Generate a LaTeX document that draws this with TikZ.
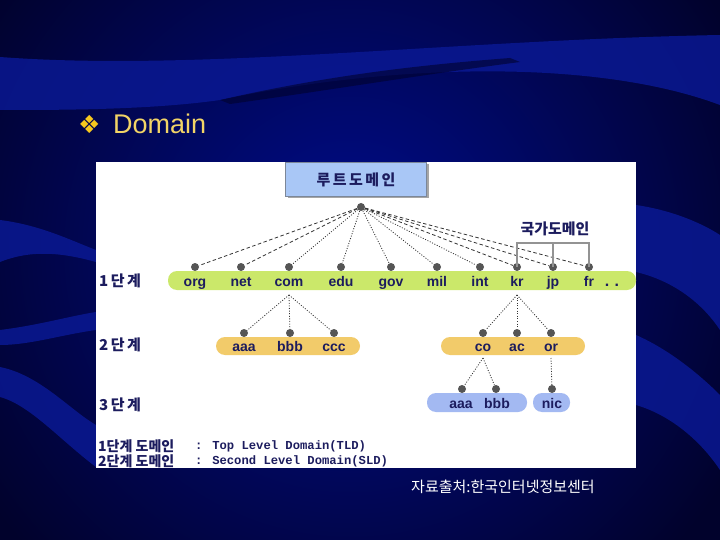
\documentclass[tikz,border=0pt]{standalone}
\usepackage{fontspec}
\setmainfont{Liberation Sans}
\newfontfamily\krfont{Noto Sans CJK KR}
\newfontfamily\codefont{Liberation Mono}
\newfontfamily\symfont{DejaVu Sans}
\usetikzlibrary{calc}
\definecolor{bgdark}{HTML}{01022C}
\definecolor{bgglow}{HTML}{000C8C}
\definecolor{bgband}{HTML}{0A1892}
\definecolor{navyx}{HTML}{1C1C5E}
\definecolor{dotgray}{HTML}{555555}
\definecolor{linkgray}{HTML}{333333}
\definecolor{greenbar}{HTML}{CBE86A}
\definecolor{orangebar}{HTML}{F2CB6A}
\definecolor{bluebar}{HTML}{A3B9F2}
\definecolor{rootfill}{HTML}{A9C7F6}
\definecolor{rootline}{HTML}{7C8798}
\definecolor{titley}{HTML}{F2D466}
\definecolor{bullety}{HTML}{F7C81E}
\tikzset{
  dot/.style={circle,fill=dotgray,inner sep=0pt,minimum size=8pt},
  lab/.style={font=\bfseries\fontsize{14}{14}\selectfont,text=navyx,inner sep=1pt,anchor=base},
  steplab/.style={font=\krfont\bfseries\fontsize{15}{15}\selectfont,text=navyx,anchor=west,inner sep=0pt},
  keylab/.style={font=\krfont\bfseries\fontsize{14}{14}\selectfont,text=navyx,anchor=west,inner sep=0pt},
  codelab/.style={font=\codefont\bfseries\fontsize{12.2}{12.2}\selectfont,text=navyx,anchor=west,inner sep=0pt},
  link/.style={linkgray,line width=0.8pt},
  dashlink/.style={link,dash pattern=on 3.5pt off 2.5pt},
  dotlink/.style={link,dash pattern=on 1pt off 1.6pt},
  bracket/.style={gray!85,line width=1.4pt},
  bar/.style={rounded corners=9pt}
}
\begin{document}
\begin{tikzpicture}[x=1pt,y=-1pt]
\useasboundingbox (0,0) rectangle (720,540);
% background
\begin{scope}
\clip (0,0) rectangle (720,540);
\fill[bgdark] (0,0) rectangle (720,540);
\shade[inner color=bgglow,outer color=bgdark] (350,250) circle (440);
\fill[bgband,opacity=0.85] (0,57) .. controls (200,72) and (450,40) .. (720,35) -- (720,105)
  .. controls (600,60) and (400,62) .. (220,100) .. controls (150,110) and (60,110) .. (0,110) -- cycle;
\fill[bgdark,opacity=0.6] (220,100) .. controls (330,75) and (420,65) .. (510,58) -- (520,62) .. controls (420,75) and (330,90) .. (230,104) -- cycle;
\fill[bgband,opacity=0.85] (0,220) .. controls (40,225) and (70,240) .. (96,250) -- (96,262) .. controls (60,252) and (30,250) .. (0,262) -- cycle;
\fill[bgband,opacity=0.85] (0,330) .. controls (40,325) and (70,316) .. (96,312) -- (96,330) .. controls (60,335) and (30,345) .. (0,345) -- cycle;
\fill[bgband,opacity=0.85] (0,367) .. controls (40,375) and (70,410) .. (96,425) -- (96,467) .. controls (60,440) and (30,405) .. (0,397) -- cycle;
\fill[bgband,opacity=0.85] (636,205) .. controls (670,210) and (700,222) .. (720,235) -- (720,330) .. controls (700,300) and (670,280) .. (636,272) -- cycle;
\fill[bgband,opacity=0.85] (636,335) .. controls (670,350) and (700,375) .. (720,395) -- (720,470) .. controls (700,440) and (670,415) .. (636,405) -- cycle;
\end{scope}
% title
\node[font=\symfont\fontsize{25}{25}\selectfont,text=bullety,anchor=west,inner sep=0pt] (bul) at (78,124) {❖};
\node[font=\fontsize{27}{27}\selectfont,text=titley,anchor=west,inner sep=0pt] (title) at (113,124) {Domain};
% panel
\fill[white] (96,162) rectangle (636,468);
% root
\fill[gray!70] (288,164) rectangle (429,198);
\node[draw=rootline,fill=rootfill,minimum width=141pt,minimum height=34pt,
  font=\krfont\bfseries\fontsize{15}{15}\selectfont,text=navyx] (root) at (356,179.5) {루\,트\,도\,메\,인};
\node[dot] (rdot) at (361,207) {};
% level 1
\fill[greenbar,bar] (168,271) rectangle (636,290);
\node[steplab] (s1) at (99,281) {1\,단\,계};
\coordinate (brk) at (553,243);
\foreach \n/\x/\s in {org/195/dashlink,net/241/dashlink,com/289/dotlink,edu/341/dotlink,
  gov/391/dotlink,mil/437/dotlink,int/480/dotlink,kr/517/dashlink,jp/553/dashlink,fr/589/dashlink}{
  \node[lab] (\n) at (\x,286) {\n};
  \node[dot] (d\n) at (\x,267) {};
  \draw[\s] (rdot) -- (d\n);
}
\node[lab,font=\bfseries\fontsize{16}{16}\selectfont] (more) at (612,286) {.\,\,.};
\draw[bracket] (dkr.center) -- (dkr.center |- brk) -- (dfr.center |- brk) -- (dfr.center);
\draw[bracket] (djp.center) -- (djp.center |- brk);
\node[font=\krfont\bfseries\fontsize{15}{15}\selectfont,text=navyx] (cc) at (555,229) {국가도메인};
% level 2
\node[steplab] (s2) at (99,345) {2\,단\,계};
\fill[orangebar,bar] (216,337) rectangle (360,355);
\fill[orangebar,bar] (441,337) rectangle (585,355);
\coordinate (comb) at (289,295);
\coordinate (krb) at (517,295);
\foreach \n/\x in {aaa/244,bbb/290,ccc/334}{
  \node[lab] (c\n) at (\x,351) {\n};
  \node[dot] (dc\n) at (\x,333) {};
  \draw[dotlink] (comb) -- (dc\n);
}
\foreach \n/\x in {co/483,ac/517,or/551}{
  \node[lab] (\n) at (\x,351) {\n};
  \node[dot] (d\n) at (\x,333) {};
  \draw[dotlink] (krb) -- (d\n);
}
% level 3
\node[steplab] (s3) at (99,405) {3\,단\,계};
\fill[bluebar,bar] (427,393) rectangle (527,412);
\fill[bluebar,bar] (533,393) rectangle (570,412);
\coordinate (cob) at (483,358);
\coordinate (orb) at (551,358);
\node[lab] (kaaa) at (461,408) {aaa};
\node[lab] (kbbb) at (497,408) {bbb};
\node[lab] (nic) at (552,408) {nic};
\node[dot] (dkaaa) at (462,389) {};
\node[dot] (dkbbb) at (496,389) {};
\node[dot] (dnic) at (552,389) {};
\draw[dotlink] (cob) -- (dkaaa);
\draw[dotlink] (cob) -- (dkbbb);
\draw[dotlink] (orb) -- (dnic);
% legend
\node[keylab] (k1) at (98,446) {1단계 도메인};
\node[keylab] (k2) at (98,461) {2단계 도메인};
\node[codelab] (e1) at (195,446) {: Top Level Domain(TLD)};
\node[codelab] (e2) at (195,461) {: Second Level Domain(SLD)};
% source
\node[anchor=west,inner sep=0pt,text=white,font=\krfont\fontsize{15}{15}\selectfont] (src) at (411,487) {자료출처:한국인터넷정보센터};
\end{tikzpicture}
\end{document}
